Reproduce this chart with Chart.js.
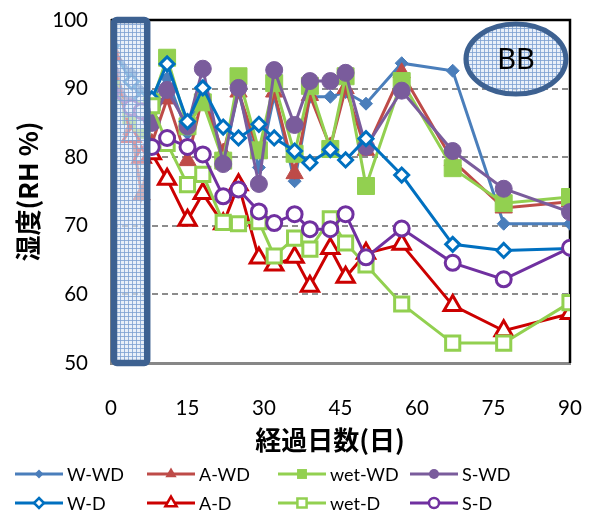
<!DOCTYPE html>
<html>
<head>
<meta charset="utf-8">
<script src="https://cdn.jsdelivr.net/npm/chart.js@4.4.1/dist/chart.umd.min.js"></script>
<style>
  html, body { margin: 0; padding: 0; background: #ffffff; }
  #wrap { width: 594px; height: 524px; position: relative; }
</style>
</head>
<body>
<div id="wrap"><canvas id="c" width="594" height="524"></canvas></div>
<script>
// Elapsed days of each measurement
const days = [0, 4, 6, 8, 11, 15, 18, 22, 25, 29, 32, 36, 39, 43, 46, 50, 57, 67, 77, 90];

// Relative humidity (RH %) per specimen
const wWD   = [96.0, 92.2, 89.5, 88.5, 91.5, 83.5, 90.0, 79.5, 89.5, 78.5, 89.0, 76.5, 88.8, 88.8, 89.5, 87.8, 93.7, 92.6, 70.3, 70.3];
const aWD   = [95.8, 84.0, 74.5, 82.0, 88.5, 79.5, 89.0, 80.6, 89.5, 80.6, 89.5, 77.6, 89.0, 81.5, 90.0, 81.0, 92.3, 79.5, 72.6, 73.5];
const wetWD = [90.0, 86.0, 84.0, 88.0, 94.5, 84.5, 88.0, 79.5, 91.8, 81.0, 90.8, 80.5, 90.4, 81.2, 91.8, 75.8, 91.1, 78.4, 73.3, 74.2];
const sWD   = [92.3, 87.5, 86.0, 85.0, 89.8, 84.5, 92.9, 79.0, 90.1, 76.1, 92.7, 84.7, 91.1, 91.1, 92.3, 81.5, 89.7, 80.9, 75.4, 72.0];
const wD    = [96.2, 91.0, 88.5, 88.5, 93.6, 85.2, 90.1, 84.4, 82.8, 84.8, 82.8, 80.9, 79.2, 81.1, 79.6, 82.7, 77.4, 67.3, 66.4, 66.7];
const aD    = [95.0, 83.0, 80.0, 80.5, 76.8, 70.8, 74.7, 70.3, 76.0, 65.3, 64.3, 65.4, 61.2, 66.7, 62.5, 66.0, 67.3, 58.4, 54.7, 57.2];
const wetD  = [90.0, 87.0, 85.0, 87.5, 82.0, 76.0, 77.5, 70.5, 70.3, 70.6, 65.6, 68.2, 66.6, 71.0, 67.5, 64.3, 58.6, 52.9, 52.9, 58.8];
const sD    = [89.5, 87.2, 86.7, 81.5, 82.8, 81.5, 80.4, 74.3, 75.3, 72.1, 70.4, 71.7, 69.5, 69.5, 71.7, 65.4, 69.6, 64.6, 62.2, 66.8];

const seriesNames = ['W-WD', 'A-WD', 'wet-WD', 'S-WD', 'W-D', 'A-D', 'wet-D', 'S-D'];
const seriesValues = [wWD, aWD, wetWD, sWD, wD, aD, wetD, sD];

const xTicks = [0, 15, 30, 45, 60, 75, 90];
const yTicks = [50, 60, 70, 80, 90, 100];

const xTitle = '経過日数(日)';
const yTitle = '湿度(RH %)';
const badgeText = 'BB';

// Appearance of each series: colour, marker shape, marker size, hollow or filled
const looks = [
  { color: '#4A7EBB', style: 'rectRot',  r: 6.5, hollow: false, legendR: 4.5 },
  { color: '#BE4B48', style: 'triangle', r: 10,  hollow: false, legendR: 6.5 },
  { color: '#92D050', style: 'rect',     r: 12,  hollow: false, legendR: 7 },
  { color: '#7A5C9C', style: 'circle',   r: 8.5, hollow: false, legendR: 5 },
  { color: '#0070C0', style: 'rectRot',  r: 7,   hollow: true,  legendR: 5 },
  { color: '#CC0000', style: 'triangle', r: 10,  hollow: true,  legendR: 6.5 },
  { color: '#92D050', style: 'rect',     r: 10,  hollow: true,  legendR: 6.5 },
  { color: '#7030A0', style: 'circle',   r: 7.5, hollow: true,  legendR: 5 }
];

const datasets = seriesNames.map((name, i) => {
  const lk = looks[i];
  return {
    label: name,
    data: days.map((d, k) => ({ x: d, y: seriesValues[i][k] })),
    borderColor: lk.color,
    borderWidth: 3,
    backgroundColor: lk.color,
    pointStyle: lk.style,
    pointRadius: lk.r,
    pointBorderWidth: lk.hollow ? 3 : 1,
    pointBorderColor: lk.color,
    pointBackgroundColor: lk.hollow ? '#ffffff' : lk.color,
    tension: 0,
    order: seriesNames.length - i
  };
});

function drawMarker(ctx, style, x, y, r) {
  ctx.beginPath();
  if (style === 'circle') {
    ctx.arc(x, y, r, 0, Math.PI * 2);
  } else if (style === 'rectRot') {
    ctx.moveTo(x, y - r); ctx.lineTo(x + r, y); ctx.lineTo(x, y + r); ctx.lineTo(x - r, y);
  } else if (style === 'triangle') {
    const s = Math.sin(Math.PI * 2 / 3) * r;
    ctx.moveTo(x, y - r); ctx.lineTo(x + s, y + r / 2); ctx.lineTo(x - s, y + r / 2);
  } else {
    const h = r * Math.SQRT1_2;
    ctx.rect(x - h, y - h, 2 * h, 2 * h);
  }
  ctx.closePath();
}

function hatchPattern(ctx) {
  const p = document.createElement('canvas');
  p.width = 4; p.height = 4;
  const g = p.getContext('2d');
  g.fillStyle = 'rgba(222,232,246,0.66)';
  g.fillRect(0, 0, 4, 4);
  g.fillStyle = 'rgba(125,160,210,0.8)';
  g.fillRect(0, 0, 4, 1);
  g.fillRect(0, 0, 1, 4);
  return ctx.createPattern(p, 'repeat');
}

// keep the plot rectangle fixed: no extra room reserved for tick label overhang
function fixedFit(size) {
  return s => {
    if (s.isHorizontal()) s.height = size; else s.width = size;
    s.paddingTop = 0; s.paddingBottom = 0; s.paddingLeft = 0; s.paddingRight = 0;
  };
}

const decorations = {
  id: 'decorations',
  beforeDatasetsDraw(chart) {
    const { ctx, chartArea: a } = chart;
    // plot frame: top and right edges
    ctx.save();
    ctx.strokeStyle = '#000000';
    ctx.lineWidth = 2.5;
    ctx.beginPath();
    ctx.moveTo(a.left, a.top);
    ctx.lineTo(a.right, a.top);
    ctx.lineTo(a.right, a.bottom);
    ctx.stroke();
    ctx.restore();
  },
  afterDatasetsDraw(chart) {
    const { ctx, chartArea: a, scales: { x, y } } = chart;
    const pat = hatchPattern(ctx);
    ctx.save();
    // highlighted initial period
    const bx0 = x.getPixelForValue(0) + 3;
    const bx1 = x.getPixelForValue(7.1);
    const by0 = a.top;
    const by1 = a.bottom;
    ctx.beginPath();
    if (ctx.roundRect) ctx.roundRect(bx0, by0, bx1 - bx0, by1 - by0, 3);
    else ctx.rect(bx0, by0, bx1 - bx0, by1 - by0);
    ctx.fillStyle = pat;
    ctx.fill();
    ctx.lineWidth = 6.5;
    ctx.strokeStyle = '#3D6191';
    ctx.stroke();

    // badge
    const ex = x.getPixelForValue(79.4);
    const ey = y.getPixelForValue(94.3);
    ctx.beginPath();
    ctx.ellipse(ex, ey, 50, 35, 0, 0, Math.PI * 2);
    ctx.fillStyle = pat;
    ctx.fill();
    ctx.lineWidth = 5;
    ctx.strokeStyle = '#3D6191';
    ctx.stroke();
    ctx.fillStyle = '#000000';
    ctx.font = '29px Lato, "Liberation Sans", sans-serif';
    ctx.textAlign = 'center';
    ctx.textBaseline = 'middle';
    ctx.fillText(badgeText, ex, ey + 1);
    ctx.restore();
  },
  afterDraw(chart) {
    const { ctx, chartArea: a } = chart;
    ctx.save();
    // axis titles
    ctx.fillStyle = '#000000';
    ctx.font = 'bold 26px "Noto Sans CJK JP", sans-serif';
    ctx.textAlign = 'center';
    ctx.textBaseline = 'middle';
    ctx.fillText(xTitle, 330, 440);
    ctx.translate(28, (a.top + a.bottom) / 2);
    ctx.rotate(-Math.PI / 2);
    ctx.fillText(yTitle, 0, 0);
    ctx.restore();

    // legend in a 4 x 2 grid
    const colX = [15, 147, 278, 410];
    const rowY = [474, 503];
    ctx.save();
    ctx.font = '18px Lato, "Liberation Sans", sans-serif';
    ctx.textBaseline = 'middle';
    ctx.textAlign = 'left';
    chart.data.datasets.forEach((ds, i) => {
      const lk = looks[i];
      const x0 = colX[i % 4];
      const yy = rowY[Math.floor(i / 4)];
      ctx.strokeStyle = lk.color;
      ctx.lineWidth = 3;
      ctx.beginPath();
      ctx.moveTo(x0, yy);
      ctx.lineTo(x0 + 48, yy);
      ctx.stroke();
      drawMarker(ctx, lk.style, x0 + 24, yy, lk.legendR);
      if (lk.hollow) {
        ctx.fillStyle = '#ffffff';
        ctx.fill();
        ctx.lineWidth = 2.5;
        ctx.stroke();
      } else {
        ctx.fillStyle = lk.color;
        ctx.fill();
      }
      ctx.fillStyle = '#000000';
      ctx.fillText(ds.label, x0 + 52, yy + 1);
    });
    ctx.restore();
  }
};

new Chart(document.getElementById('c'), {
  type: 'line',
  data: { datasets },
  options: {
    responsive: false,
    devicePixelRatio: 1,
    animation: false,
    events: [],
    layout: { padding: { left: 0, right: 24, top: 20, bottom: 0 } },
    plugins: { legend: { display: false }, tooltip: { enabled: false } },
    scales: {
      x: {
        type: 'linear',
        min: 0,
        max: 90,
        afterBuildTicks: s => { s.ticks = xTicks.map(v => ({ value: v })); },
        afterFit: fixedFit(161),
        ticks: {
          color: '#000000',
          font: { family: 'Lato, "Liberation Sans", sans-serif', size: 20.5 },
          padding: 33,
          maxRotation: 0
        },
        grid: { display: false, drawTicks: false },
        border: { display: true, color: '#878787', width: 3 }
      },
      y: {
        type: 'linear',
        min: 50,
        max: 100,
        afterBuildTicks: s => { s.ticks = yTicks.map(v => ({ value: v })); },
        afterFit: fixedFit(111),
        ticks: {
          color: '#000000',
          font: { family: 'Lato, "Liberation Sans", sans-serif', size: 20.5 },
          padding: 23
        },
        grid: {
          drawTicks: false,
          lineWidth: 2,
          color: c => (c.tick && (c.tick.value === 50 || c.tick.value === 100)) ? 'rgba(0,0,0,0)' : '#8C8C8C'
        },
        border: { display: true, color: '#878787', width: 2, dash: [6, 4] }
      }
    }
  },
  plugins: [decorations]
});
</script>
</body>
</html>
